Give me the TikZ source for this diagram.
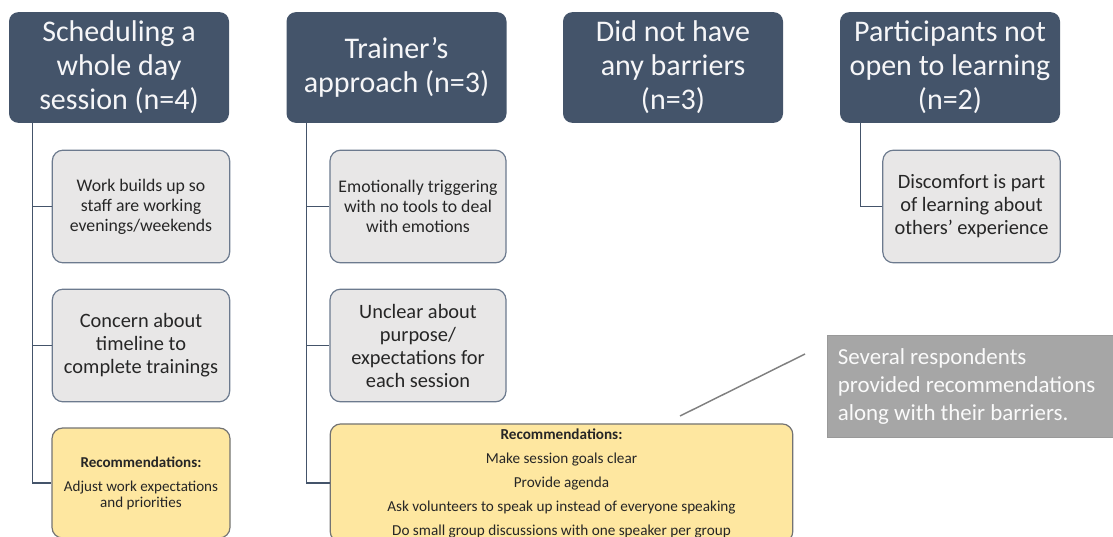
\documentclass[tikz,border=0pt]{standalone}
\usepackage{fontspec}
\setmainfont{Carlito}
\definecolor{barslate}{RGB}{68,84,106}
\definecolor{notegray}{RGB}{232,231,231}
\definecolor{noteline}{RGB}{108,122,142}
\definecolor{recgold}{RGB}{254,231,160}
\definecolor{tipgray}{RGB}{166,166,166}

\begin{document}
\begin{tikzpicture}[x=0.75pt,y=-0.75pt,
  barrier/.style={fill=barslate,text=white!95!barslate,rounded corners=7pt,
    minimum width=165pt,minimum height=83pt,align=center,
    font=\fontsize{22.5}{25.5}\selectfont},
  reason/.style={draw=noteline,line width=0.9pt,fill=notegray,text=black!85,
    rounded corners=8pt,minimum width=133pt,minimum height=84.5pt,align=center},
  small/.style={font=\fontsize{13.3}{15}\selectfont},
  big/.style={font=\fontsize{15.3}{17.25}\selectfont},
  recbox/.style={draw=black!55,line width=0.9pt,fill=recgold,text=black!85,
    rounded corners=8pt,minimum height=82.5pt,align=center},
  link/.style={draw=barslate,line width=1pt},
  pointer/.style={draw=black!50,line width=1.1pt}]
  \useasboundingbox (0,0) rectangle (1113,536);

  % barrier headings
  \node[barrier] (sched)   at (119,67.5)   {Scheduling a\\whole day\\session (n=4)};
  \node[barrier] (trainer) at (396.5,67.5) {Trainer’s\\approach (n=3)};
  \node[barrier] (none)    at (673,67.5)   {Did not have\\any barriers\\(n=3)};
  \node[barrier] (closed)  at (950,67.5)   {Participants not\\open to learning\\(n=2)};

  % first column
  \node[reason,small] (work)    at (141,206.5) {Work builds up so\\staff are working\\evenings/weekends};
  \node[reason,big]   (concern) at (141,345.5) {Concern about\\timeline to\\complete trainings};
  \node[recbox,minimum width=133.5pt,font=\fontsize{11.3}{12}\selectfont] (recA) at (141,483)
    {\textbf{Recommendations:}\\[6pt]Adjust work expectations\\and priorities};

  % second column
  \node[reason,small,minimum width=132pt] (trigger) at (418,206.5) {Emotionally triggering\\with no tools to deal\\with emotions};
  \node[reason,big,minimum width=132pt]   (unclear) at (418,345.5) {Unclear about\\purpose/\\expectations for\\each session};
  \node[recbox,minimum width=347pt,font=\fontsize{11.4}{18}\selectfont] (recB) at (561.5,483)
    {\textbf{Recommendations:}\\Make session goals clear\\Provide agenda\\
     Ask volunteers to speak up instead of everyone speaking\\
     Do small group discussions with one speaker per group};

  % fourth column
  \node[reason,big] (discomfort) at (971.5,206.5) {Discomfort is part\\of learning about\\others’ experience};

  % tree lines
  \draw[link] (sched.south west) ++(24,0) coordinate (t1)
    |- (work.west) (t1) |- (concern.west) (t1) |- (recA.west);
  \draw[link] (trainer.south west) ++(20,0) coordinate (t2)
    |- (trigger.west) (t2) |- (unclear.west) (t2) |- (recB.west);
  \draw[link] (closed.south west) ++(21,0) |- (discomfort.west);

  % side note
  \node[fill=tipgray,draw=black!40,line width=0.6pt,text=white!94!tipgray,align=flush left,
    text width=199pt,inner xsep=7.5pt,minimum height=77pt,
    font=\fontsize{17.2}{21}\selectfont] (tip) at (970.5,386.5)
    {Several respondents\\provided recommendations\\along with their barriers.};
  \coordinate (p1) at (805,354);
  \coordinate (p2) at (680,416);
  \draw[pointer] (p1) -- (p2);
\end{tikzpicture}
\end{document}
